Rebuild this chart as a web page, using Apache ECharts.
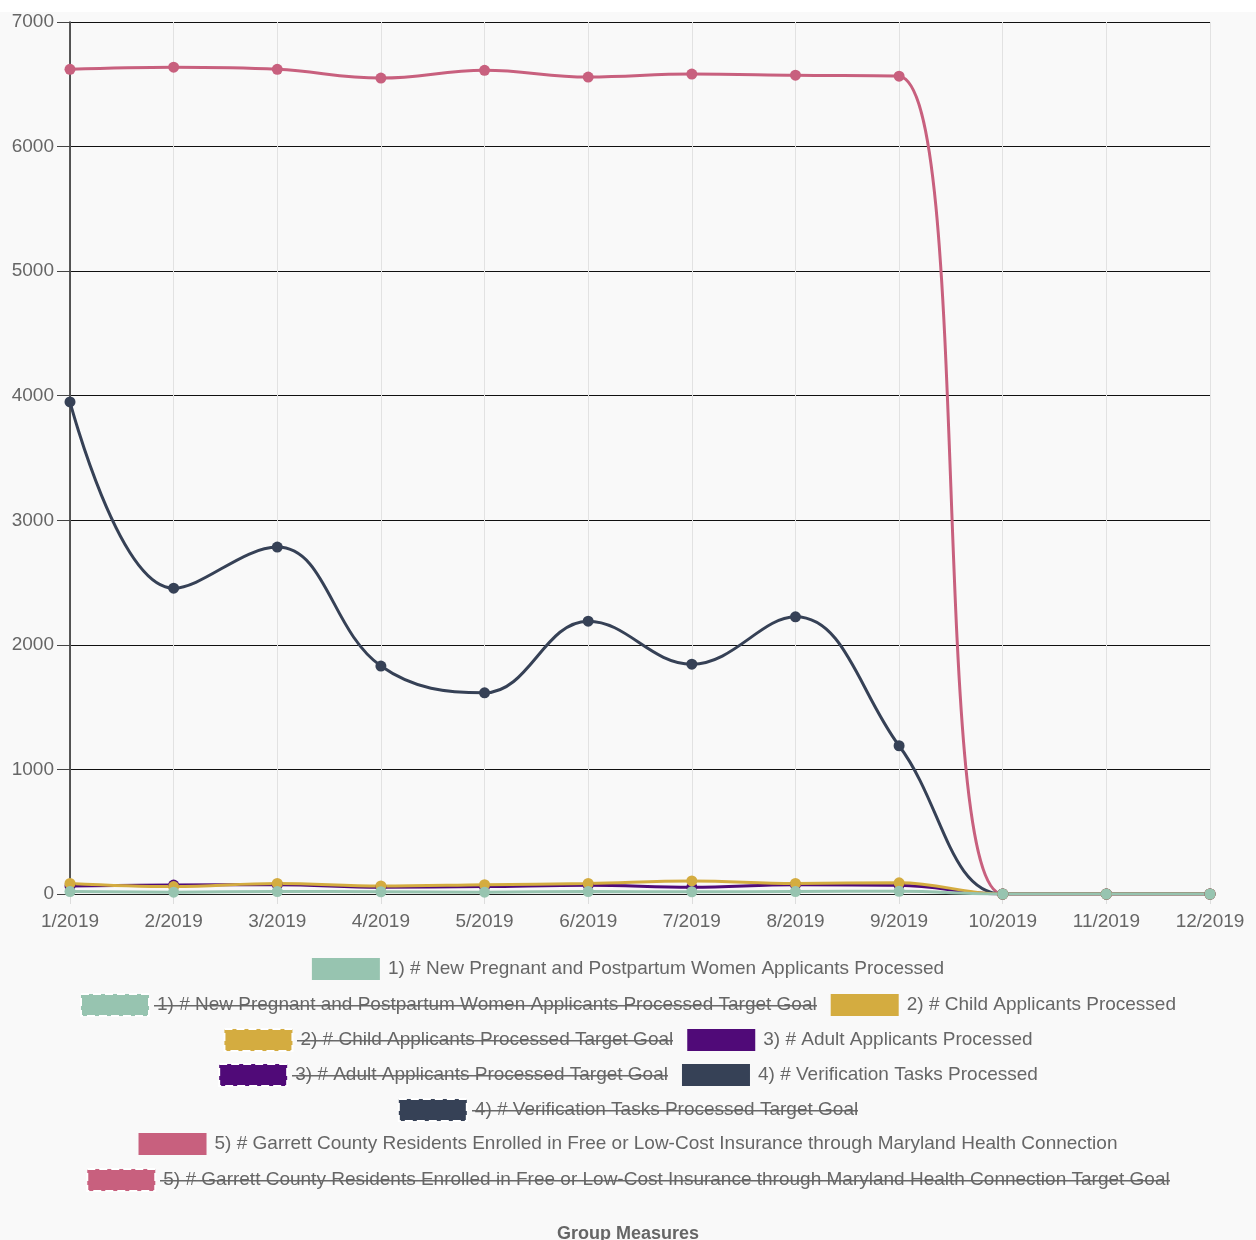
<!DOCTYPE html>
<html>
<head>
<meta charset="utf-8">
<script src="https://cdn.jsdelivr.net/npm/echarts@6/dist/echarts.min.js"></script>
<style>
html, body { margin: 0; padding: 0; background: #fff; }
#main { position: absolute; left: 0; top: 12px; width: 1256px; height: 1228px; background: #f9f9f9; }
</style>
</head>
<body>
<div id="main"></div>
<script>
var months = ['1/2019', '2/2019', '3/2019', '4/2019', '5/2019', '6/2019', '7/2019', '8/2019', '9/2019', '10/2019', '11/2019', '12/2019'];
var yTicks = [0, 1000, 2000, 3000, 4000, 5000, 6000, 7000];

var pregnant = [20, 15, 20, 18, 15, 20, 18, 20, 22, 0, 0, 0];
var child = [85, 60, 85, 65, 75, 85, 105, 85, 90, 0, 0, 0];
var adult = [65, 72, 75, 55, 60, 70, 55, 75, 70, 0, 0, 0];
var verification = [3950, 2455, 2785, 1830, 1615, 2190, 1845, 2225, 1190, 0, 0, 0];
var enrolled = [6620, 6637, 6620, 6550, 6612, 6558, 6582, 6573, 6565, 0, 0, 0];

var names = [
	'1) # New Pregnant and Postpartum Women Applicants Processed',
	'2) # Child Applicants Processed',
	'3) # Adult Applicants Processed',
	'4) # Verification Tasks Processed',
	'5) # Garrett County Residents Enrolled in Free or Low-Cost Insurance through Maryland Health Connection'
];
var colors = ['#97c4b0', '#d4ac40', '#500a78', '#364156', '#c8607e'];
var values = [pregnant, child, adult, verification, enrolled];
// which legend entries sit on each centred row
var legendRows = [[0], [1, 2], [3, 4], [5, 6], [7], [8], [9]];

var myChart = echarts.init(document.getElementById('main'));

// line image used as a strike-through background for the hidden goal items
var strike = document.createElement('canvas');
strike.width = 10;
strike.height = 22;
var ctx = strike.getContext('2d');
ctx.fillStyle = '#666';
ctx.fillRect(0, 11, 10, 1.6);

var font = "'Liberation Sans', Arial, Helvetica, sans-serif";
var legendData = [];
var series = [];
for (var i = 0; i < names.length; i++) {
	legendData.push({ name: names[i], itemStyle: { color: colors[i], borderWidth: 0 } });
	legendData.push({
		name: names[i] + ' Target Goal',
		itemStyle: { color: colors[i], borderColor: '#fff', borderWidth: 2, borderType: 'dashed' }
	});
}
// draw in reverse so the first dataset ends up on top
for (var i = names.length - 1; i >= 0; i--) {
	series.push({
		name: names[i] + ' Target Goal',
		type: 'line',
		data: [],
		itemStyle: { color: colors[i] },
		lineStyle: { color: colors[i] }
	});
	series.push({
		name: names[i],
		type: 'line',
		data: values[i],
		smooth: 0.4,
		symbol: 'circle',
		symbolSize: 11,
		itemStyle: { color: colors[i] },
		lineStyle: { color: colors[i], width: 3 },
		emphasis: { disabled: true }
	});
}

var legends = legendRows.map(function (row, r) {
	return {
		data: row.map(function (k) { return legendData[k]; }),
		left: 'center',
		top: 941 + r * 35,
		icon: 'rect',
		itemWidth: 68,
		itemHeight: 22,
		itemGap: 14,
		selectedMode: false,
		textStyle: {
			color: '#666',
			fontSize: 19,
			fontFamily: font,
			rich: {
				n: { color: '#666', fontSize: 19, fontFamily: font, lineHeight: 22, padding: [0, 0, 0, 3] },
				s: {
					color: '#666',
					fontSize: 19,
					fontFamily: font,
					lineHeight: 22,
					padding: [0, 0, 0, 3],
					backgroundColor: { image: strike }
				}
			}
		},
		formatter: function (name) {
			return (/Target Goal$/.test(name) ? '{s|' : '{n|') + name + '}';
		}
	};
});

var option = {
	animation: false,
	textStyle: { fontFamily: font },
	title: {
		text: 'Group Measures',
		left: 'center',
		top: 1208,
		textStyle: { color: '#666', fontSize: 18, fontWeight: 'bold', fontFamily: font }
	},
	legend: legends,
	grid: { left: 70, right: 46, top: 10, bottom: 346, containLabel: false },
	xAxis: {
		type: 'category',
		data: months,
		boundaryGap: false,
		axisLine: { show: true, lineStyle: { color: '#222', width: 1 } },
		axisTick: { show: true, length: 10, lineStyle: { color: '#ddd' } },
		splitLine: { show: true, lineStyle: { color: '#e2e2e2', width: 1 } },
		axisLabel: { color: '#666', fontSize: 19, margin: 18, fontFamily: font }
	},
	yAxis: {
		type: 'value',
		min: yTicks[0],
		max: yTicks[yTicks.length - 1],
		interval: 1000,
		axisLine: { show: true, lineStyle: { color: '#222', width: 1.5 } },
		axisTick: { show: true, length: 13, lineStyle: { color: '#444' } },
		splitLine: { show: true, lineStyle: { color: '#111', width: 1 } },
		axisLabel: {
			color: '#666', fontSize: 19, margin: 16, fontFamily: font,
			formatter: function (v) { return String(v); }
		}
	},
	series: series
};
myChart.setOption(option);
</script>
</body>
</html>
